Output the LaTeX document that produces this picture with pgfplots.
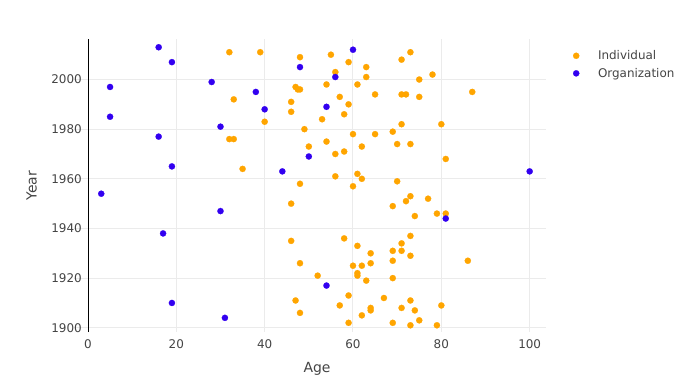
\documentclass[border=0pt]{standalone}
\usepackage{fontspec}
\setmainfont{DejaVu Sans}
\usepackage{pgfplots}
\pgfplotsset{compat=1.18}
\definecolor{indiv}{HTML}{FFA500}
\definecolor{org}{RGB}{50,0,240}
\definecolor{gridc}{HTML}{EBEBEB}
\definecolor{txt}{HTML}{444444}
\begin{document}
\begin{tikzpicture}
\path[use as bounding box] (0,0) rectangle (700bp,385bp);
\begin{axis}[
  at={(88bp,53bp)}, anchor=south west,
  scale only axis, width=458bp, height=292.7bp,
  xmin=0, xmax=103.7, ymin=1898.3, ymax=2016.2,
  axis lines*=left,
  x axis line style={draw=none},
  y axis line style={black, line width=1bp},
  xtick={0,20,...,100}, ytick={1900,1920,...,2000},
  grid=major, major grid style={gridc, line width=1bp},
  tick align=outside,
  xtick style={draw=none, /pgfplots/major tick length=0bp},
  ytick style={gridc, line width=1bp, /pgfplots/major tick length=14bp},
  /pgf/number format/assume math mode=true,
  /pgf/number format/1000 sep={},
  ticklabel style={font=\fontsize{12}{14}\selectfont, text=txt},
  yticklabel style={xshift=1.5bp},
  xlabel={Age}, ylabel={Year},
  every axis x label/.style={at={(axis description cs:0.5,-0.1247)}, anchor=center, font=\fontsize{14}{16}\selectfont, text=txt},
  every axis y label/.style={at={(axis description cs:-0.1229,0.5)}, anchor=center, rotate=90, font=\fontsize{14}{16}\selectfont, text=txt},
  legend style={at={(axis description cs:1.052,0.976)}, anchor=north west, draw=none, fill=none,
    font=\fontsize{12}{14}\selectfont, text=txt, row sep=3bp},
  legend cell align=left,
  legend image code/.code={\draw[draw=none, fill=none] (0bp,0bp) -- (23bp,0bp); \draw[#1] plot coordinates {(3.2bp,0bp)};},
  clip=false,
]
\addplot[only marks, mark=*, mark size=3.1bp, color=indiv, mark options={draw=indiv, fill=indiv, line width=0.2bp}] coordinates {
(32,2011) (39,2011) (48,2009) (47,1997) (47.5,1996) (48,1996) (33,1992) (46,1991) (46,1987) (40,1983) (53,1984) (49,1980) (32,1976) (33,1976) (50,1973) (35,1964) (48,1958)
(55,2010) (73,2011) (71,2008) (59,2007) (63,2005) (56,2003) (63,2001) (78,2002) (75,2000) (54,1998) (61,1998) (57,1993) (65,1994) (71,1994) (72,1994) (75,1993) (87,1995) (59,1990) (58,1986) (71,1982) (80,1982) (60,1978) (65,1978) (69,1979) (54,1975) (70,1974) (73,1974) (62,1973) (56,1970) (58,1971) (81,1968) (56,1961) (61,1962) (62,1960) (70,1959) (60,1957)
(46,1950) (46,1935) (48,1926) (52,1921) (47,1911) (48,1906)
(73,1953) (72,1951) (77,1952) (69,1949) (79,1946) (81,1946) (74,1945) (58,1936) (73,1937) (71,1934) (61,1933) (64,1930) (69,1931) (71,1931) (69,1927) (73,1929) (64,1926) (60,1925) (62,1925) (86,1927) (61,1922) (61,1921) (63,1919) (69,1920) (59,1913) (67,1912) (73,1911) (57,1909) (71,1908) (80,1909) (64,1908) (64,1907) (74,1907) (62,1905) (59,1902) (69,1902) (73,1901) (75,1903) (79,1901)
};
\addlegendentry{Individual}
\addplot[only marks, mark=*, mark size=3.1bp, color=org, mark options={draw=org, fill=org, line width=0.2bp}] coordinates {
(16,2013) (19,2007) (5,1997) (28,1999) (38,1995) (40,1988) (5,1985) (30,1981) (16,1977) (50,1969) (19,1965) (44,1963) (3,1954) (48,2005) (60,2012) (56,2001) (54,1989) (100,1963) (30,1947) (17,1938) (19,1910) (31,1904) (81,1944) (54,1917)
};
\addlegendentry{Organization}
\end{axis}
\end{tikzpicture}
\end{document}
